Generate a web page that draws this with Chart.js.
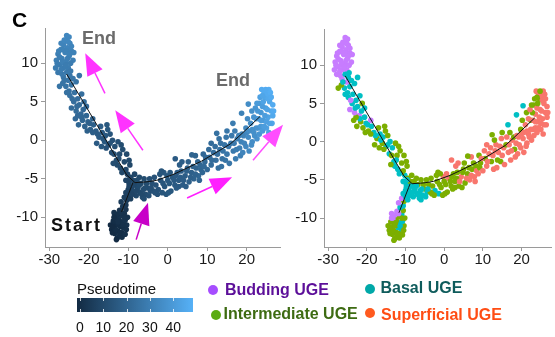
<!DOCTYPE html>
<html>
<head>
<meta charset="utf-8">
<script src="https://cdn.jsdelivr.net/npm/chart.js@4.4.1/dist/chart.umd.min.js"></script>
<style>
    body { margin: 0; background: #fff; font-family: "Liberation Sans", Arial, sans-serif; }
    #fig { position: relative; width: 555px; height: 337px; overflow: hidden; background: #fff; }
    canvas { position: absolute; top: 0; }
    .txt { position: absolute; white-space: nowrap; line-height: 1; }
    .bold { font-weight: bold; }
    .dot { position: absolute; width: 10px; height: 10px; border-radius: 50%; }
    #bar { position: absolute; left: 77px; top: 298px; width: 116px; height: 14px;
           background: linear-gradient(to right, #132B43, #56B1F7); }
    .bartick { position: absolute; width: 1px; background: rgba(255,255,255,0.8); }
</style>
</head>
<body>
<div id="fig">
    <canvas id="timeChart" width="300" height="275" style="left:0px"></canvas>
    <canvas id="typeChart" width="275" height="275" style="left:280px"></canvas>

    <div class="txt bold" style="left:12px;top:9px;font-size:21px;color:#000">C</div>
    <div class="txt bold" style="left:82px;top:28.5px;font-size:18px;color:#6b6b6b">End</div>
    <div class="txt bold" style="left:216px;top:70.5px;font-size:18px;color:#6b6b6b">End</div>
    <div class="txt bold" style="left:51px;top:215.5px;font-size:18px;letter-spacing:2px;color:#111">Start</div>

    <div class="txt" style="left:77px;top:281px;font-size:15px;color:#111">Pseudotime</div>
    <div id="bar"></div>
    <div id="barLabels"></div>
    <div id="legend"></div>
</div>

<script>
// axis ticks
const xTicks = [-30, -20, -10, 0, 10, 20];
const yTicks = [-10, -5, 0, 5, 10];
const pseudoTicks = [0, 10, 20, 30, 40];
const pseudoMax = 48;

// cell types (B = budding, Ba = basal, I = intermediate, S = superficial)
const cellTypes = ['B', 'Ba', 'I', 'S'];
const typeNames = ['Budding UGE', 'Basal UGE', 'Intermediate UGE', 'Superficial UGE'];
const typePointColors = ['#C77CFF', '#00BFC4', '#7CAE00', '#F8766D'];
const typeDotColors = ['#a64dff', '#00a8a8', '#5aab12', '#ff5a1f'];
const typeTextColors = ['#5c0f99', '#0f5c5c', '#3d6b12', '#ff4d14'];

// cells: [x, y, pseudotime, type]
const startCells = [
    [-12.8,-12.7,1,'I'], [-12.2,-12.4,1,'I'], [-13.4,-12.1,1,'I'], [-11.6,-12.0,2,'I'], [-12.6,-11.8,1,'I'],
    [-14.2,-11.6,0,'I'], [-13.6,-11.3,1,'I'], [-11.2,-11.4,2,'Ba'], [-12.0,-11.2,1,'Ba'], [-14.5,-11.0,0,'I'],
    [-10.4,-11.0,3,'I'], [-13.0,-10.9,1,'I'], [-11.6,-10.6,2,'Ba'], [-10.8,-10.4,3,'Ba'], [-13.8,-10.5,1,'I'],
    [-12.4,-10.3,2,'I'], [-13.2,-10.0,2,'B'], [-10.2,-10.0,3,'I'], [-12.0,-9.8,3,'I'], [-12.8,-9.6,2,'B'],
    [-11.0,-9.5,3,'Ba'], [-13.6,-9.4,2,'B'], [-12.2,-9.1,3,'B'], [-10.6,-9.0,4,'I'], [-11.6,-12.6,1,'I'],
    [-13.0,-12.9,0,'I'], [-14.0,-12.0,0,'I'], [-11.0,-10.0,3,'I'], [-12.6,-11.0,1,'I'], [-10.5,-11.6,2,'I'],
    [-13.2,-11.6,1,'I'], [-12.0,-12.0,1,'I'], [-11.4,-11.0,2,'Ba'], [-12.6,-10.6,2,'I'], [-13.6,-10.0,1,'B'],
    [-11.8,-9.4,3,'B'], [-14.0,-11.2,0,'I'], [-10.8,-12.2,2,'I']
];
const startBranchCells = [
    [-11.4,-8.6,5,'Ba'], [-10.6,-8.4,5,'Ba'], [-11.8,-8.0,6,'B'], [-10.4,-7.8,6,'I'], [-11.0,-7.4,7,'B'],
    [-10.0,-7.2,7,'Ba'], [-9.4,-7.6,7,'Ba'], [-10.6,-6.8,8,'Ba'], [-9.6,-6.6,8,'Ba']
];
const junctionCells = [
    [-10.2,-4.4,9,'Ba'], [-9.4,-4.8,9,'I'], [-10.6,-5.2,9,'Ba'], [-9.8,-5.6,9,'Ba'], [-8.8,-5.2,10,'I'],
    [-8.2,-5.8,10,'Ba'], [-9.2,-6.2,9,'Ba'], [-10.0,-6.4,8,'Ba'], [-8.6,-6.6,10,'Ba'], [-7.6,-6.2,11,'Ba'],
    [-7.8,-5.2,11,'I'], [-6.8,-5.6,11,'I'], [-7.0,-6.8,11,'Ba'], [-6.2,-6.4,12,'Ba'], [-5.6,-7.0,12,'Ba'],
    [-6.4,-7.4,12,'Ba'], [-5.0,-6.2,12,'I'], [-8.0,-7.2,10,'Ba'], [-9.0,-7.0,9,'Ba'], [-7.2,-4.8,11,'I'],
    [-11.0,-4.0,9,'I'], [-8.4,-4.4,10,'I'], [-6.0,-5.0,12,'I'], [-4.8,-7.2,13,'Ba'], [-5.4,-5.6,12,'I'],
    [-9.6,-5.0,9,'Ba'], [-8.6,-5.8,10,'Ba'], [-7.2,-5.8,11,'Ba'], [-6.6,-7.0,11,'Ba'], [-5.8,-6.2,12,'Ba'],
    [-8.0,-6.6,10,'Ba'], [-9.8,-6.0,9,'Ba'], [-6.0,-7.6,12,'Ba'], [-4.4,-6.6,13,'Ba']
];
const leftArmCells = [
    [-12.0,-3.6,11,'Ba'], [-11.0,-2.8,11,'I'], [-13.0,-2.6,12,'Ba'], [-12.2,-1.8,12,'I'], [-14.2,-1.6,13,'Ba'],
    [-13.4,-0.8,13,'Ba'], [-11.4,-1.2,12,'I'], [-15.0,-0.6,14,'Ba'], [-14.0,0.0,14,'Ba'], [-12.6,-0.2,13,'I'],
    [-9.8,-2.6,11,'I'], [-12.8,-3.2,11,'Ba'], [-13.8,-3.0,12,'I'], [-10.6,-3.8,10,'I'],
    [-11.6,-4.2,10,'Ba'], [-12.4,-2.4,12,'Ba'], [-13.6,-1.8,13,'I'], [-14.6,-0.4,14,'Ba'], [-15.6,-1.0,14,'I'],
    [-10.4,-1.8,11,'I'], [-9.6,-3.2,10,'I'], [-11.8,-0.6,12,'I'],
    [-15.8,0.6,16,'Ba'], [-16.6,1.0,17,'Ba'], [-17.4,0.4,17,'I'], [-16.0,-0.2,16,'I'], [-18.2,1.2,18,'Ba'],
    [-17.0,1.8,18,'I'], [-18.8,2.0,19,'Ba'], [-19.6,1.4,19,'I'], [-20.2,2.4,20,'Ba'], [-19.0,2.8,20,'B'],
    [-21.0,1.8,20,'I'], [-21.6,2.6,21,'I'], [-22.6,2.0,21,'I'], [-20.6,3.2,21,'Ba'], [-22.0,3.4,22,'B'],
    [-18.0,-0.4,17,'I'], [-15.2,1.4,16,'I'], [-14.6,0.8,15,'I'], [-23.4,2.8,22,'I'],
    [-16.4,0.2,16,'Ba'], [-17.8,0.8,17,'Ba'], [-19.0,1.0,18,'I'], [-19.8,2.2,19,'Ba'], [-21.8,3.0,21,'Ba'],
    [-22.8,3.2,22,'I'], [-20.4,1.2,19,'I'], [-16.8,-0.8,16,'I'], [-15.4,2.0,16,'I'],
    [-21.4,4.0,22,'Ba'], [-22.4,4.6,23,'Ba'], [-23.2,3.8,23,'B'], [-23.8,5.0,24,'Ba'], [-22.8,5.4,24,'Ba'],
    [-24.4,4.2,23,'B'], [-21.2,5.0,23,'I'], [-20.6,4.4,22,'Ba'], [-24.8,5.8,25,'Ba'], [-23.6,6.2,25,'Ba'],
    [-23.0,4.4,23,'Ba'], [-24.2,5.4,24,'B'], [-21.8,6.0,24,'Ba'],
    [-25.0,6.4,25,'Ba'], [-25.8,7.0,26,'Ba'], [-24.4,7.2,26,'Ba'], [-26.6,7.4,26,'I'], [-23.2,7.6,26,'Ba'],
    [-25.2,7.8,27,'B'], [-26.4,8.2,27,'B'], [-22.4,8.4,26,'Ba'], [-27.4,7.0,26,'I'], [-24.0,8.0,27,'Ba'],
    [-25.6,6.2,25,'Ba'], [-26.2,7.8,26,'Ba'], [-24.8,8.4,27,'Ba']
];
const topCells = [
    [-25.0,13.4,33,'B'], [-25.8,13.0,33,'B'], [-24.8,12.6,32,'B'], [-26.4,12.4,32,'B'], [-25.4,12.0,32,'B'],
    [-27.0,11.8,31,'B'], [-24.4,11.6,31,'B'], [-26.0,11.4,31,'B'], [-27.8,11.2,30,'B'], [-25.0,10.9,31,'B'],
    [-26.8,10.6,30,'B'], [-28.2,10.4,30,'B'], [-25.8,10.2,30,'B'], [-24.0,10.4,30,'B'], [-27.4,9.8,29,'B'],
    [-28.4,9.4,29,'B'], [-26.4,9.4,29,'B'], [-25.2,9.4,29,'B'], [-27.8,8.8,28,'B'], [-26.8,8.6,28,'B'],
    [-25.6,8.8,28,'Ba'], [-24.6,9.0,28,'Ba'], [-27.0,12.6,32,'B'], [-25.6,13.6,33,'B'], [-28.0,10.0,29,'B'],
    [-26.2,10.0,30,'B'], [-24.4,12.2,32,'B'],
    [-26.2,13.0,33,'B'], [-25.2,12.8,33,'B'], [-26.6,11.8,31,'B'], [-27.6,11.6,31,'B'], [-25.6,11.6,31,'B'],
    [-24.8,11.2,31,'B'], [-27.4,10.8,30,'B'], [-25.4,10.6,30,'B'], [-26.6,10.2,30,'B'], [-27.0,9.2,29,'B'],
    [-25.8,9.8,29,'B'], [-23.8,11.4,31,'B'], [-24.6,10.0,29,'B']
];
const rightArmCells = [
    [-4.6,-5.0,13,'I'], [-4.0,-5.6,13,'I'], [-3.4,-4.8,14,'I'], [-3.0,-5.8,14,'I'], [-2.4,-6.4,14,'Ba'],
    [-1.8,-5.2,15,'I'], [-1.4,-6.8,15,'Ba'], [-0.8,-6.0,15,'I'], [-0.2,-4.6,16,'S'], [0.4,-5.6,16,'I'],
    [0.8,-6.6,16,'I'], [1.2,-4.8,16,'S'], [-2.0,-4.4,15,'I'], [-3.6,-6.6,14,'I'], [-0.4,-7.0,15,'I'],
    [1.8,-5.8,17,'I'], [2.4,-4.2,17,'I'], [-1.0,-4.2,16,'I'], [0.2,-6.8,16,'I'], [-2.6,-7.0,14,'I'],
    [-4.2,-6.2,13,'Ba'], [-3.2,-6.8,14,'I'], [-1.2,-5.6,15,'I'], [0.0,-5.2,16,'I'], [0.6,-4.2,16,'S'],
    [1.6,-5.2,17,'I'], [2.0,-4.6,17,'I'], [2.8,-6.0,17,'I'], [-1.6,-4.0,15,'I'],
    [2.8,-5.2,17,'I'], [3.4,-4.0,18,'I'], [3.8,-5.8,18,'I'], [4.4,-4.6,18,'S'], [5.0,-3.6,19,'I'],
    [5.4,-5.4,19,'I'], [6.0,-4.2,19,'I'], [6.6,-5.0,20,'S'], [7.2,-3.6,20,'I'], [7.8,-4.6,21,'S'],
    [3.0,-3.2,18,'S'], [4.6,-6.0,18,'I'], [8.2,-3.2,21,'I'], [2.2,-6.2,17,'I'], [3.6,-2.8,18,'S'], [1.9,-2.4,17,'S'],
    [3.2,-4.8,18,'I'], [4.0,-5.2,18,'S'], [4.8,-4.0,19,'I'], [5.8,-4.8,19,'S'], [6.4,-3.4,20,'I'],
    [7.0,-4.4,20,'S'], [7.6,-2.8,21,'I'], [8.4,-3.8,21,'S'], [9.2,-3.4,22,'I'], [8.0,-5.2,21,'S'], [5.2,-2.8,19,'I'],
    [8.8,-4.2,21,'S'], [9.4,-2.8,22,'I'], [10.0,-3.8,22,'S'], [10.6,-2.2,23,'I'], [11.0,-3.2,23,'S'],
    [11.6,-1.6,24,'S'], [12.2,-2.6,24,'I'], [12.8,-3.6,24,'S'], [9.0,-1.8,22,'I'], [13.2,-1.2,25,'S'],
    [7.0,-2.0,20,'S'], [6.1,-1.9,20,'I'],
    [10.4,-1.2,23,'S'], [11.2,-2.6,23,'S'], [12.0,-0.8,24,'S'], [12.6,-1.8,24,'S'], [13.4,-0.4,25,'S'],
    [14.0,-1.4,26,'S'], [14.6,-2.6,26,'I'], [15.4,-0.8,27,'S'], [13.0,0.2,25,'I'], [11.0,-0.4,23,'S'], [9.6,-2.2,22,'S'],
    [13.8,-2.4,25,'I'], [14.4,-0.6,26,'S'], [15.0,-1.8,27,'S'], [15.6,-3.0,27,'S'], [16.0,-0.4,28,'I'],
    [16.6,-1.4,28,'S'], [17.2,-2.4,29,'S'], [17.6,0.2,29,'S'], [18.2,-1.0,30,'I'], [14.8,0.4,27,'S'],
    [12.4,0.9,25,'I'], [16.5,2.2,29,'Ba'], [18.7,3.5,31,'Ba'], [13.6,-3.4,25,'S'],
    [16.2,0.6,28,'S'], [16.8,-0.4,28,'S'], [17.4,-1.2,29,'S'], [18.0,0.6,30,'I'], [18.6,-0.2,31,'S'],
    [19.2,0.6,32,'S'], [19.8,-0.8,33,'S'], [20.0,1.0,33,'S'], [15.0,1.2,27,'I'], [17.0,1.2,29,'I'],
    [18.4,-2.0,30,'S'], [20.6,-1.4,34,'S'],
    [18.8,0.8,31,'S'], [19.4,-0.4,32,'S'], [19.8,1.6,33,'I'], [20.4,0.4,34,'S'], [21.0,2.2,35,'S'],
    [21.2,-0.6,35,'S'], [21.8,1.0,36,'S'], [22.4,2.8,37,'I'], [22.6,0.2,37,'S'], [20.2,2.8,34,'I'],
    [23.0,1.6,38,'S'], [19.0,-1.6,32,'S'], [20.4,4.7,35,'Ba'], [21.3,3.8,36,'I'],
    [21.8,3.0,37,'S'], [22.4,1.6,37,'S'], [23.0,2.8,39,'S'], [23.6,1.8,39,'S'], [21.4,1.4,36,'S'],
    [20.6,1.2,35,'S'], [21.4,-0.2,35,'S'], [22.0,0.6,36,'S'], [23.2,0.8,38,'S'],
    [23.6,3.6,39,'S'], [24.2,2.6,40,'S'], [24.8,4.2,42,'S'], [25.4,3.0,43,'S'], [25.8,5.0,44,'S'],
    [26.2,3.8,45,'S'], [24.6,5.6,44,'I'], [23.8,6.6,46,'S'], [24.4,6.2,46,'S'], [25.2,6.0,46,'S'],
    [26.4,2.2,44,'S'], [25.0,1.6,42,'S'], [23.2,4.8,40,'I'], [22.8,3.8,39,'I'], [26.6,4.6,46,'S'],
    [25.6,1.0,42,'S'], [24.0,1.2,40,'S'], [23.4,5.6,42,'I'], [26.0,6.2,47,'S'], [22.2,4.2,38,'S'],
    [24.0,4.4,41,'S'], [24.6,3.2,41,'S'], [25.2,4.0,43,'S'], [25.8,2.2,43,'S'], [26.6,3.2,45,'S'],
    [25.4,5.4,45,'S'], [24.2,5.0,43,'I'], [26.2,5.6,46,'S'], [25.0,2.4,42,'S'], [23.6,2.6,40,'S'],
    [22.6,4.8,40,'I'], [26.8,3.8,46,'S'], [24.4,1.8,41,'S'], [25.6,6.6,47,'S'], [24.8,6.6,46,'I'], [24.0,5.8,44,'I']
];

// principal graph of the trajectory
const trunkX = [-25.6, -10.4, -8.3, -5.3, -2.8, 1.6, 8.6, 15.8, 18.0, 23.4];
const trunkY = [8.6, -4.5, -5.5, -5.4, -5.2, -4.4, -2.7, -0.5, 0.5, 3.1];
const startBranchX = [-8.8, -9.2, -11.7];
const startBranchY = [-5.5, -6.0, -9.3];

// direction arrows [tailX, tailY, tipX, tipY]
const arrowPaths = [
    [-15.9, 6.1, -20.9, 11.3],
    [-6.3, -1.3, -13.3, 3.9],
    [4.9, -7.5, 16.3, -4.8],
    [21.6, -2.6, 29.2, 2.0],
    [-8.0, -12.9, -5.0, -8.1]
];
const arrowColors = ['#ff33ff', '#ff33ff', '#ff1fff', '#ff4dff', '#c800c8'];

const allCells = [].concat(startCells, startBranchCells, junctionCells, leftArmCells, topCells, rightArmCells);
const cellPoints = allCells.map(c => ({ x: c[0], y: c[1] }));
const trunkPoints = trunkX.map((x, i) => ({ x: x, y: trunkY[i] }));
const branchPoints = startBranchX.map((x, i) => ({ x: x, y: startBranchY[i] }));

const tickFont = '"Liberation Sans", Arial, sans-serif';
const axisColor = '#9a9a9a';

function pseudoColor(t) {
    const f = Math.min(1, Math.max(0, t / pseudoMax));
    const lo = [19, 43, 67], hi = [86, 177, 247];
    return 'rgb(' + lo.map((v, i) => Math.round(v + (hi[i] - v) * f)).join(',') + ')';
}

const timeColors = allCells.map(c => pseudoColor(c[2]));
const typeColors = allCells.map(c => typePointColors[cellTypes.indexOf(c[3])]);

// magenta arrows drawn on top of the first panel
const arrowPlugin = {
    id: 'arrows',
    afterDatasetsDraw(chart) {
        const { ctx, scales: { x, y } } = chart;
        ctx.save();
        arrowPaths.forEach((a, i) => {
            const x0 = x.getPixelForValue(a[0]), y0 = y.getPixelForValue(a[1]);
            const x1 = x.getPixelForValue(a[2]), y1 = y.getPixelForValue(a[3]);
            const ang = Math.atan2(y1 - y0, x1 - x0);
            const headLen = 22, headHalf = 8.5;
            const bx = x1 - headLen * Math.cos(ang), by = y1 - headLen * Math.sin(ang);
            ctx.strokeStyle = arrowColors[i];
            ctx.fillStyle = arrowColors[i];
            ctx.lineWidth = 1.5;
            ctx.beginPath();
            ctx.moveTo(x0, y0);
            ctx.lineTo(bx, by);
            ctx.stroke();
            ctx.beginPath();
            ctx.moveTo(x1, y1);
            ctx.lineTo(bx + headHalf * Math.sin(ang), by - headHalf * Math.cos(ang));
            ctx.lineTo(bx - headHalf * Math.sin(ang), by + headHalf * Math.cos(ang));
            ctx.closePath();
            ctx.fill();
        });
        ctx.restore();
    }
};

function makePanel(id, colors, area, plugins) {
    const lineStyle = {
        showLine: true, borderColor: '#111', borderWidth: 1, pointRadius: 0, order: 0
    };
    return new Chart(document.getElementById(id), {
        type: 'scatter',
        data: {
            datasets: [
                Object.assign({ data: trunkPoints }, lineStyle),
                Object.assign({ data: branchPoints }, lineStyle),
                {
                    data: cellPoints,
                    backgroundColor: colors,
                    borderWidth: 0,
                    pointRadius: 2.8,
                    order: 1
                }
            ]
        },
        options: {
            responsive: false,
            animation: false,
            events: [],
            layout: { padding: area.padding },
            plugins: { legend: { display: false }, tooltip: { enabled: false } },
            scales: {
                x: {
                    type: 'linear',
                    min: area.xMin, max: area.xMax,
                    afterBuildTicks: s => { s.ticks = xTicks.map(v => ({ value: v })); },
                    afterFit: s => { s.height = 28; },
                    grid: { drawOnChartArea: false, tickLength: 4, color: axisColor },
                    border: { color: axisColor },
                    ticks: { font: { family: tickFont, size: 15 }, color: '#1a1a1a', padding: 0, maxRotation: 0 }
                },
                y: {
                    type: 'linear',
                    min: area.yMin, max: area.yMax,
                    afterBuildTicks: s => { s.ticks = yTicks.map(v => ({ value: v })); },
                    afterFit: s => { s.width = area.yWidth; },
                    grid: { drawOnChartArea: false, tickLength: 4, color: axisColor },
                    border: { color: axisColor },
                    ticks: { font: { family: tickFont, size: 15 }, color: '#1a1a1a', padding: 3 }
                }
            }
        },
        plugins: plugins
    });
}

makePanel('timeChart', timeColors, {
    padding: { top: 28, right: 20, left: 0, bottom: 0 },
    xMin: -31.09, xMax: 28.43, yMin: -13.86, yMax: 14.58, yWidth: 45
}, [arrowPlugin]);

makePanel('typeChart', typeColors, {
    padding: { top: 29, right: 0, left: 0, bottom: 0 },
    xMin: -31.09, xMax: 27.63, yMin: -13.78, yMax: 14.73, yWidth: 44
}, []);

// pseudotime colour bar ticks and labels
const bar = document.getElementById('bar');
const barLabels = document.getElementById('barLabels');
pseudoTicks.forEach(v => {
    const px = 3 + v * 2.33;
    ['top:0px', 'bottom:0px'].forEach(pos => {
        const t = document.createElement('div');
        t.className = 'bartick';
        t.style.cssText = 'left:' + px + 'px;height:3px;' + pos;
        bar.appendChild(t);
    });
    const lbl = document.createElement('div');
    lbl.className = 'txt';
    lbl.textContent = v;
    lbl.style.cssText = 'left:' + (80 + v * 2.33) + 'px;top:320px;font-size:14px;color:#111;transform:translateX(-50%)';
    barLabels.appendChild(lbl);
});

// cell type legend, two columns
const legendSpots = [
    { dot: [212.5, 290], text: [225, 282.2] },
    { dot: [369.5, 289], text: [380.5, 280.2] },
    { dot: [216, 315], text: [223.5, 306.2] },
    { dot: [369.5, 312.5], text: [381, 307.2] }
];
const legend = document.getElementById('legend');
typeNames.forEach((name, i) => {
    const spot = legendSpots[i];
    const d = document.createElement('div');
    d.className = 'dot';
    d.style.cssText = 'left:' + (spot.dot[0] - 5) + 'px;top:' + (spot.dot[1] - 5) + 'px;background:' + typeDotColors[i];
    legend.appendChild(d);
    const t = document.createElement('div');
    t.className = 'txt bold';
    t.textContent = name;
    t.style.cssText = 'left:' + spot.text[0] + 'px;top:' + spot.text[1] + 'px;font-size:16px;color:' + typeTextColors[i];
    legend.appendChild(t);
});
</script>
</body>
</html>
